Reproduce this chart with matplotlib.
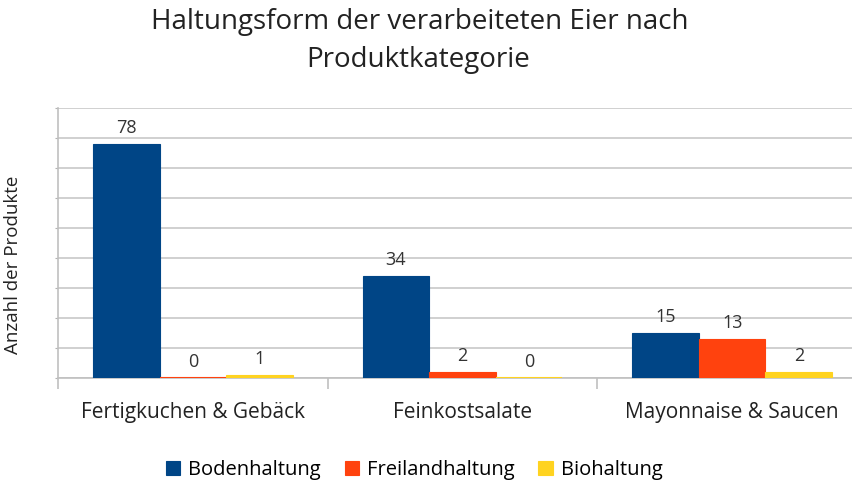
import matplotlib
matplotlib.use("Agg")
import matplotlib.pyplot as plt
import numpy as np

categories = ["Fertigkuchen & Gebäck", "Feinkostsalate", "Mayonnaise & Saucen"]
series_names = ["Bodenhaltung", "Freilandhaltung", "Biohaltung"]
boden = [78, 34, 15]
freiland = [0, 2, 13]
bio = [1, 0, 2]
colors = ["#004586", "#ff420e", "#ffd320"]

plt.rcParams['font.family'] = ['Open Sans', 'DejaVu Sans']

fig = plt.figure(figsize=(8.53, 4.87), dpi=100)
ax = fig.add_axes([58/853, 1-378/487, 809/853, 270/487])

x = np.arange(len(categories))
w = 0.247
for i, (vals, c) in enumerate(zip([boden, freiland, bio], colors)):
    pos = x + (i - 1) * w
    ax.bar(pos, vals, width=w, color=c, edgecolor=c, linewidth=0.8, label=series_names[i], zorder=3)
    for p, v in zip(pos, vals):
        if v == 0:
            ax.hlines(0, p - w/2, p + w/2, colors=c, linewidth=1.5, zorder=4)
        ax.text(p, v + 2.2, str(v), ha='center', va='bottom', fontsize=13, color='#333333')

ax.set_xlim(-0.5, 2.5)
ax.set_ylim(0, 90)
ax.set_yticks(np.arange(0, 91, 10))
ax.set_yticklabels([])
ax.tick_params(axis='y', length=2, color='#b3b3b3')
ax.grid(axis='y', color='#c8c8c8', linewidth=1.2, zorder=0)
ax.set_xticks([-0.5, 0.5, 1.5, 2.5])
ax.set_xticklabels([])
ax.tick_params(axis='x', which='major', length=8, color='#c0c0c0', width=1.2)
ax.set_xticks(x, minor=True)
ax.set_xticklabels(categories, minor=True, fontsize=15, color='#222222')
ax.tick_params(axis='x', which='minor', length=0, pad=17)
for s in ['top', 'right']:
    ax.spines[s].set_visible(False)
for s in ['left', 'bottom']:
    ax.spines[s].set_color('#c0c0c0')
    ax.spines[s].set_linewidth(1.2)

ax.set_ylabel("Anzahl der Produkte", fontsize=13.5, color='#222222', labelpad=16)
ax.yaxis.set_label_coords(-0.045, 0.42)

fig.text(420/853, 1-22/487, "Haltungsform der verarbeiteten Eier nach", ha='center', va='center', fontsize=20, color='#222222')
fig.text(418/853, 1-60/487, "Produktkategorie", ha='center', va='center', fontsize=20, color='#222222')

fig.legend(loc='center', bbox_to_anchor=(414/853, 1-470/487), ncol=3, frameon=False,
           fontsize=14.5, handlelength=0.7, handleheight=0.7, handletextpad=0.4, columnspacing=1.2)

fig.savefig("out.png", dpi=100)
